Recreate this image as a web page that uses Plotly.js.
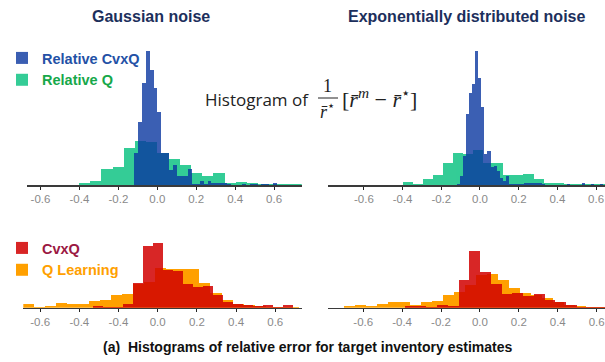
<!DOCTYPE html>
<html>
<head>
<meta charset="utf-8">
<script src="https://cdn.plot.ly/plotly-3.0.1.min.js"></script>
<style>html,body{margin:0;padding:0;background:#fff;}#chart{width:605px;height:362px;}</style>
</head>
<body>
<div id="chart"></div>
<script>
// ---------- data (bin counts) ----------
// Top-left: Gaussian noise, relative errors
const gaussRelQStart = -0.402, gaussRelQWidth = 0.0575;
const gaussRelQ = [2.5, 4.3, 15.7, 18.3, 36.7, 44.3, 43, 31.7, 25.7, 20.5, 12.3, 9.3, 11.7, 1.7, 3.3, 2.3, 1.5, 1.5, 1.5, 1.2];
const gaussRelCvxStart = -0.118, gaussRelCvxWidth = 0.0198;
const gaussRelCvx = [31.7, 63.3, 101.7, 134, 115, 96.7, 73.3, 31.7, 31.7, 15, 19.7, 9.3, 9.3, 9.3, 16, 1, 1, 4, 1.5, 4, 2, 2, 2, 2, 1, 0, 0, 0.5, 1.5, 0, 1.5, 1.5, 0, 1.5, 1.5, 0.5, 2.5];

// Top-right: Exponentially distributed noise, relative errors
const expRelQStart = -0.398, expRelQWidth = 0.0519;
const expRelQ = [3, 1.3, 6, 10.5, 22.5, 31.7, 31, 35, 21.7, 21.7, 10, 10, 11, 5.7, 2.3, 2.3, 1, 1, 1, 1, 1];
const expRelCvxStart = -0.119, expRelCvxWidth = 0.01576;
const expRelCvx = [1, 9, 29, 71, 92, 101, 134, 107, 78, 31, 34, 18, 19, 14, 7, 4, 9, 1, 1, 1, 1, 1, 2.3, 2.3, 2.3, 2.3, 2.3, 2.3, 1, 0.5, 0, 0, 0, 0, 0, 0, 1, 0, 0, 0, 0, 2.3, 0, 0, 1, 0, 0, 1];

// Bottom-left: Gaussian noise, raw errors
const gaussQLStart = -0.686, gaussQLWidth = 0.0562;
const gaussQL = [3.3, 0.7, 1.7, 4.3, 3.7, 3.7, 6.7, 7.7, 12.7, 13.3, 24, 26, 40, 38.4, 38.4, 38.4, 25, 15, 7.7, 3.7, 2.7, 1.5, 1, 0.5, 0.5];
const gaussCvxStart = -0.329, gaussCvxWidth = 0.0511;
const gaussCvx = [1.7, 1.0, 0.7, 3.5, 24.4, 61.7, 64.4, 37.7, 37, 23.4, 21, 21.7, 12.7, 6, 3.7, 2.7, 1.7, 2.7, 0.3, 2.7];

// Bottom-right: Exponential noise, raw errors
const expQLStart = -0.699, expQLWidth = 0.05656;
const expQL = [1.7, 2.7, 1.7, 3.7, 6, 6, 2.7, 5.3, 6.7, 12.7, 15.3, 22.7, 32.7, 33.3, 27.7, 19.3, 14.3, 12.7, 9.3, 6, 3, 1.5, 0.7, 0.5];
const expCvxStart = -0.3856, expCvxWidth = 0.05527;
const expCvx = [2, 1.7, 0.7, 2.7, 2, 27.7, 56.7, 35.3, 23.7, 13.3, 14.3, 12, 13.3, 7.7, 5.3, 2.7, 0.7, 0.7, 0.7];

// tick labels
const tickVals = [-0.6, -0.4, -0.2, 0.0, 0.2, 0.4, 0.6];
const tickText = ['-0.6', '-0.4', '-0.2', '0.0', '0.2', '0.4', '0.6'];
const tickTextBL = ['-0.6', '-0.4', '-0.4', '0.0', '0.2', '0.4', '0.6'];

const panelTitles = ['Gaussian noise', 'Exponentially distributed noise'];
const caption = '(a)\u00a0\u00a0Histograms of relative error for target inventory estimates';

// ---------- styling ----------
const W = 605, H = 362;
const SANS = '"Liberation Sans Narrow", "Liberation Sans", Arial, sans-serif';
const SERIF = '"Liberation Serif", "DejaVu Serif", serif';
const px = v => v / W;
const py = v => 1 - v / H;

function binTrace(start, width, counts, name, color, opacity, xa, ya, legend) {
  const x = counts.map((_, i) => start + (i + 0.5) * width);
  return {
    type: 'bar', x: x, y: counts, width: counts.map(() => width),
    name: name, legend: legend, xaxis: xa, yaxis: ya,
    marker: {color: color, line: {width: 0}}, opacity: opacity,
    hoverinfo: 'skip'
  };
}

const GREEN = 'rgb(52,204,150)';
const BLUE = 'rgb(10,55,160)';
const ORANGE = 'rgb(255,160,0)';
const RED = 'rgb(210,0,0)';

const nameRelCvx = '<span style="color:#2451a6"><b>Relative CvxQ</b></span>';
const nameRelQ = '<span style="color:#17a84a"><b>Relative Q</b></span>';
const nameCvx = '<span style="color:#9b1842"><b>CvxQ</b></span>';
const nameQL = '<span style="color:#ffa000"><b>Q Learning</b></span>';

const data = [
  binTrace(gaussRelQStart, gaussRelQWidth, gaussRelQ, nameRelQ, GREEN, 1, 'x', 'y', 'legend'),
  binTrace(gaussRelCvxStart, gaussRelCvxWidth, gaussRelCvx, nameRelCvx, BLUE, 0.8, 'x', 'y', 'legend'),
  binTrace(expRelQStart, expRelQWidth, expRelQ, nameRelQ, GREEN, 1, 'x2', 'y2', 'legend'),
  binTrace(expRelCvxStart, expRelCvxWidth, expRelCvx, nameRelCvx, BLUE, 0.8, 'x2', 'y2', 'legend'),
  binTrace(gaussQLStart, gaussQLWidth, gaussQL, nameQL, ORANGE, 1, 'x3', 'y3', 'legend2'),
  binTrace(gaussCvxStart, gaussCvxWidth, gaussCvx, nameCvx, RED, 0.85, 'x3', 'y3', 'legend2'),
  binTrace(expQLStart, expQLWidth, expQL, nameQL, ORANGE, 1, 'x4', 'y4', 'legend2'),
  binTrace(expCvxStart, expCvxWidth, expCvx, nameCvx, RED, 0.85, 'x4', 'y4', 'legend2')
];
// only one legend entry per series
data[2].showlegend = false; data[3].showlegend = false;
data[6].showlegend = false; data[7].showlegend = false;

function xAxis(domain, range, ticktext) {
  return {
    domain: domain, range: range, tickvals: tickVals, ticktext: ticktext,
    showline: true, linecolor: '#3a3a3a', linewidth: 1.5,
    ticks: 'outside', ticklen: 3, tickwidth: 1, tickcolor: '#222',
    showgrid: false, zeroline: false, fixedrange: true,
    tickfont: {family: SANS, size: 11.5, color: '#8a8a8a'}
  };
}
function yAxis(domain, range, anchor) {
  return {domain: domain, range: range, visible: false, fixedrange: true, anchor: anchor};
}

const layout = {
  width: W, height: H,
  margin: {l: 0, r: 0, t: 0, b: 0},
  paper_bgcolor: '#fff', plot_bgcolor: 'rgba(0,0,0,0)',
  barmode: 'overlay', bargap: 0,
  font: {family: SANS},
  xaxis: Object.assign(xAxis([px(26.7), px(301.7)], [-0.671, 0.742], tickText), {anchor: 'y'}),
  yaxis: yAxis([py(185), py(40)], [0, 145], 'x'),
  xaxis2: Object.assign(xAxis([px(327.7), 1], [-0.787, 0.646], tickText), {anchor: 'y2'}),
  yaxis2: yAxis([py(185), py(40)], [0, 145], 'x2'),
  xaxis3: Object.assign(xAxis([px(23.3), px(302.3)], [-0.686, 0.738], tickTextBL), {anchor: 'y3'}),
  yaxis3: yAxis([py(307.7), py(227.7)], [0, 80], 'x3'),
  xaxis4: Object.assign(xAxis([px(328), 1], [-0.781, 0.643], tickText), {anchor: 'y4'}),
  yaxis4: yAxis([py(307.7), py(227.7)], [0, 80], 'x4'),
  legend: {x: px(2), y: py(42), xanchor: 'left', yanchor: 'top', bgcolor: 'rgba(0,0,0,0)',
           traceorder: 'reversed', font: {family: SANS, size: 14.5}, itemclick: false, itemdoubleclick: false},
  legend2: {x: px(2), y: py(232), xanchor: 'left', yanchor: 'top', bgcolor: 'rgba(0,0,0,0)',
           traceorder: 'reversed', font: {family: SANS, size: 14.5}, itemclick: false, itemdoubleclick: false},
  annotations: [
    {text: '<b>' + panelTitles[0] + '</b>', xref: 'paper', yref: 'paper', x: px(151), y: py(16),
     xanchor: 'center', yanchor: 'middle', showarrow: false, font: {family: SANS, size: 16, color: '#1c2f5c'}},
    {text: '<b>' + panelTitles[1] + '</b>', xref: 'paper', yref: 'paper', x: px(466), y: py(16),
     xanchor: 'center', yanchor: 'middle', showarrow: false, font: {family: SANS, size: 16, color: '#1c2f5c'}},
    {text: '<b>' + caption + '</b>', xref: 'paper', yref: 'paper', x: px(308), y: py(347),
     xanchor: 'center', yanchor: 'middle', showarrow: false, font: {family: SANS, size: 14, color: '#111'}},
    {text: 'Histogram of', xref: 'paper', yref: 'paper', x: px(203), y: py(100),
     xanchor: 'left', yanchor: 'middle', showarrow: false, font: {family: '"Open Sans", sans-serif', size: 17, color: '#222'}},
    {text: '1', xref: 'paper', yref: 'paper', x: px(328), y: py(86),
     xanchor: 'center', yanchor: 'middle', showarrow: false, font: {family: SERIF, size: 18, color: '#222'}},
    {text: '<i>r\u0304</i><sup>\u22c6</sup>', xref: 'paper', yref: 'paper', x: px(328), y: py(110),
     xanchor: 'center', yanchor: 'middle', showarrow: false, font: {family: SERIF, size: 18, color: '#222'}},
    {text: '[<i>r\u0304</i><sup><i>m</i></sup> \u2212 <i>r\u0304</i><sup>\u22c6</sup>]', xref: 'paper', yref: 'paper', x: px(340), y: py(98),
     xanchor: 'left', yanchor: 'middle', showarrow: false, font: {family: SERIF, size: 22, color: '#222'}}
  ],
  shapes: [
    {type: 'line', xref: 'paper', yref: 'paper', x0: px(318), x1: px(338), y0: py(98), y1: py(98),
     line: {color: '#222', width: 1}}
  ]
};

Plotly.newPlot('chart', data, layout, {staticPlot: true, displayModeBar: false});
</script>
</body>
</html>
